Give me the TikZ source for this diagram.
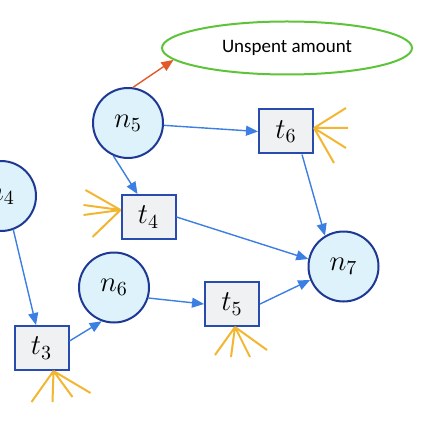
\documentclass[tikz,border=0pt]{standalone}
\usepackage{fontspec}
\newfontfamily\labelfont{Carlito}
\usetikzlibrary{shapes.geometric,arrows.meta}
\definecolor{circfill}{RGB}{221,242,250}
\definecolor{circdraw}{RGB}{30,56,150}
\definecolor{boxfill}{RGB}{239,241,242}
\definecolor{boxdraw}{RGB}{40,75,176}
\definecolor{arrowblue}{RGB}{59,127,227}
\definecolor{rayyellow}{RGB}{242,182,48}
\definecolor{arroworange}{RGB}{227,90,42}
\definecolor{ellgreen}{RGB}{93,196,58}
\tikzset{
  place/.style={circle,draw=circdraw,fill=circfill,line width=1pt,minimum size=35pt,inner sep=0pt,font=\fontsize{14.5}{16}\selectfont},
  trans/.style={rectangle,draw=boxdraw,fill=boxfill,line width=1pt,minimum width=27pt,minimum height=22pt,inner sep=0pt,font=\fontsize{14.5}{16}\selectfont},
  flow/.style={draw=arrowblue,line width=0.7pt,-{Triangle[length=6pt,width=5pt]}},
  spill/.style={draw=arroworange,line width=0.7pt,-{Triangle[length=6pt,width=5pt]}},
  ray/.style={draw=rayyellow,line width=1pt},
  goal/.style={ellipse,draw=ellgreen,line width=1pt,minimum width=125pt,minimum height=26.5pt,inner sep=0pt,font=\labelfont\fontsize{9.5}{11}\selectfont}
}
\begin{document}
\begin{tikzpicture}[x=0.5pt,y=-0.5pt]
\useasboundingbox (0,0) rectangle (427,427);
\clip (0,0) rectangle (427,427);
\node[goal] (ell) at (287,48) {Unspent amount};
\node[place] (n5) at (128,123) {$n_5$};
\node[place] (n4) at (1,196) {$n_4$};
\node[place] (n6) at (114,287.5) {$n_6$};
\node[place] (n7) at (343.5,266.5) {$n_7$};
\node[trans] (t6) at (286,131.5) {$t_6$};
\node[trans] (t4) at (148.5,217) {$t_4$};
\node[trans] (t5) at (232,304) {$t_5$};
\node[trans] (t3) at (41.5,348) {$t_3$};
% connectors
\draw[spill] (n5.82) -- (ell.186);
\draw[flow] (n5) -- (t6.west);
\draw[flow] (n5.246) -- ([xshift=-5.5pt]t4.north);
\draw[flow] ([xshift=8pt]t6.south) -- (n7.121);
\draw[flow] (t4.east) -- (n7.168);
\draw[flow] (n4.-70) -- ([xshift=-2.75pt]t3.north);
\draw[flow] ([yshift=3.5pt]t3.east) -- (n6.250);
\draw[flow] (n6.-17) -- (t5.west);
\draw[flow] (t5.east) -- (n7.202);
% yellow rays
\coordinate (r6) at ([yshift=1.75pt]t6.east);
\draw[ray] (r6) -- ++(32,-20) (r6) -- ++(34,0) (r6) -- ++(32,20) (r6) -- ++(20,35);
\coordinate (r4) at ([yshift=3.5pt]t4.west);
\draw[ray] (r4) -- ++(-35,-20) (r4) -- ++(-37,-5) (r4) -- ++(-37,5) (r4) -- ++(-28,27);
\coordinate (r5) at ([xshift=1.5pt]t5.south);
\draw[ray] (r5) -- ++(-20,28) (r5) -- ++(-4,30) (r5) -- ++(15,30) (r5) -- ++(32,23);
\coordinate (r3) at ([xshift=6pt]t3.south);
\draw[ray] (r3) -- ++(-22,31) (r3) -- ++(-1,31) (r3) -- ++(19,26) (r3) -- ++(37,22);
\end{tikzpicture}
\end{document}
